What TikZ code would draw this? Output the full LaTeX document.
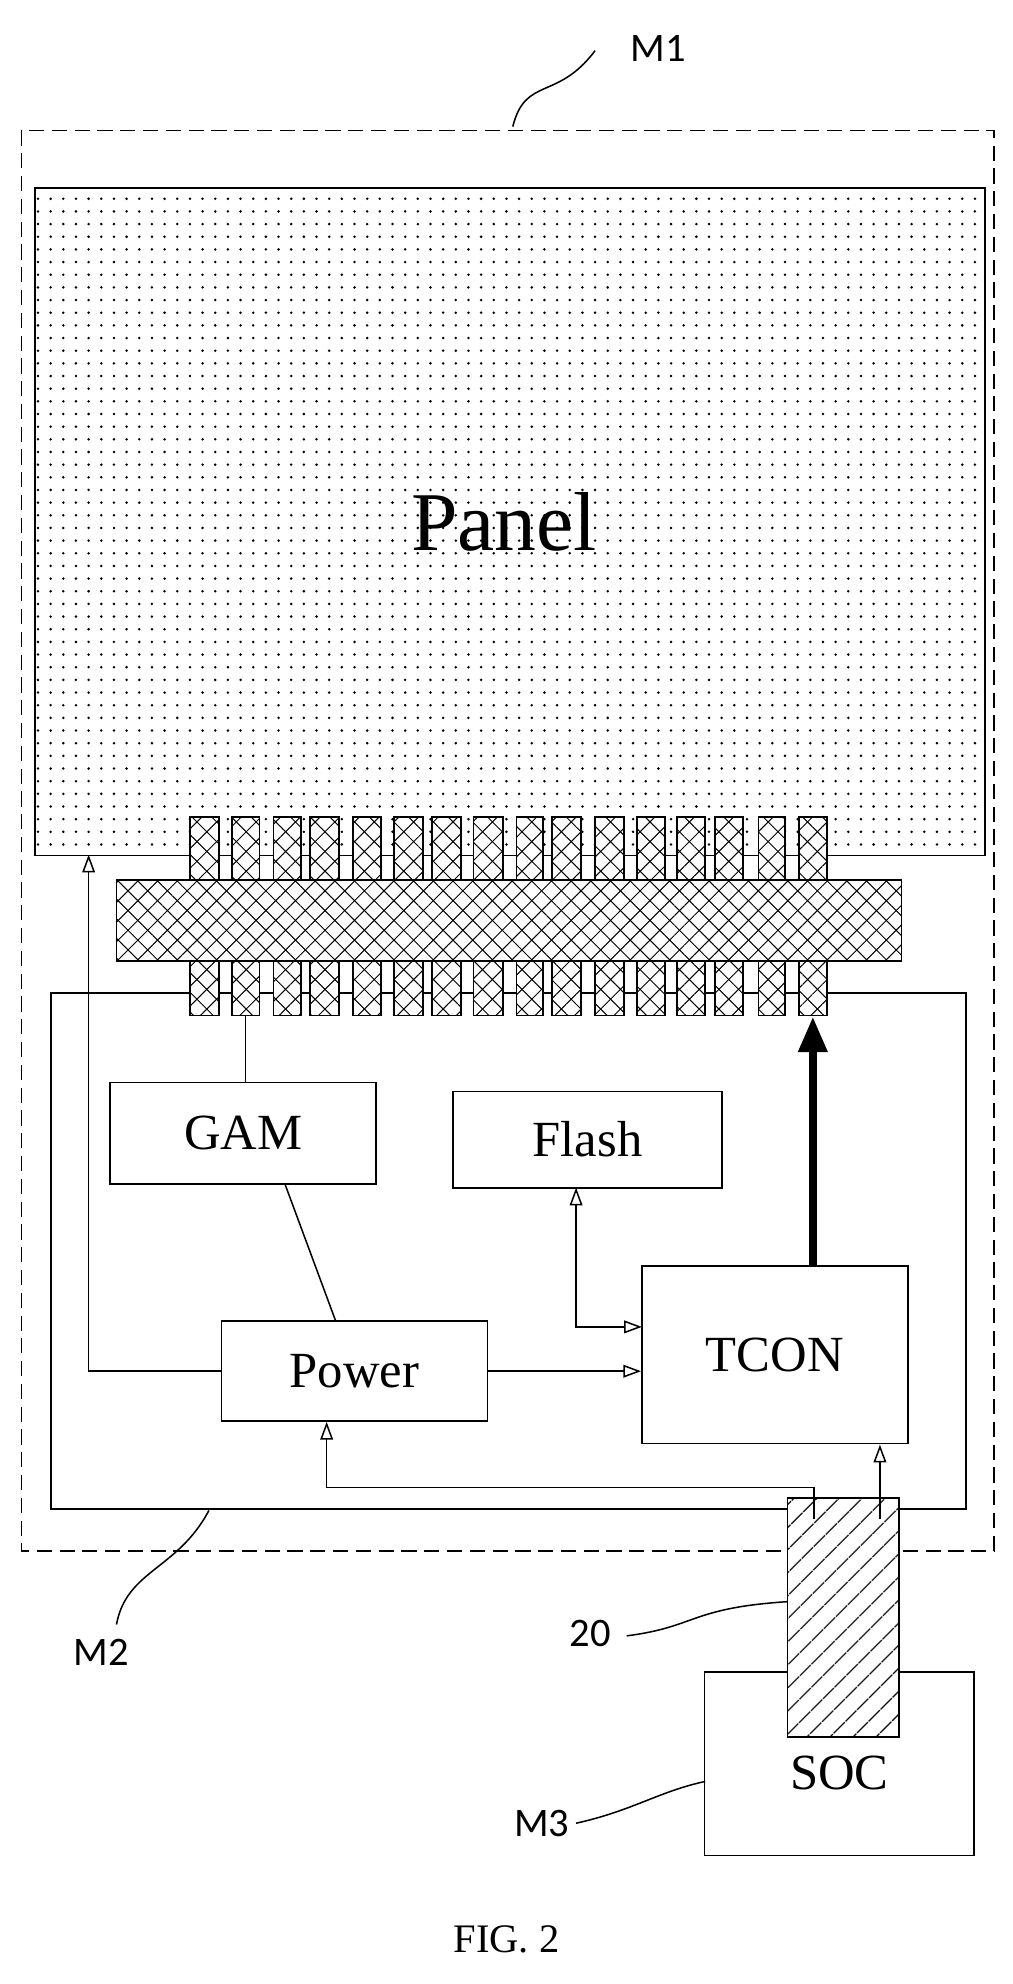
\documentclass[tikz,border=0pt]{standalone}
\usepackage{fontspec}
\setmainfont{Liberation Serif}
\newfontfamily\lab{Carlito}
\usetikzlibrary{patterns.meta,arrows.meta}
\begin{document}
\begin{tikzpicture}[x=1pt,y=-1pt,
  box/.style={draw,line width=1.4pt,fill=white,inner sep=0pt},
  xh/.style={draw,line width=1.4pt,preaction={fill=white},preaction={pattern={Lines[angle=-45,distance=11pt,line width=0.8pt]}},pattern={Lines[angle=45,distance=11pt,line width=0.8pt]}},
  txt/.style={font=\fontsize{40}{40}\selectfont},
  lbl/.style={font=\lab\fontsize{32}{32}\selectfont},
  tip/.style={Triangle[open,length=14pt,width=10pt]},
  arr/.style={-{Triangle[open,length=14pt,width=10pt]},line width=1.2pt},
  ln/.style={line width=1.2pt}]
\useasboundingbox (0,0) rectangle (800,1567);
% M1
\draw[line width=1.2pt,dash pattern=on 12pt off 6pt] (17,103) rectangle (785,1225);
\node[lbl] (m1) at (520,38) {M1};
\draw[ln] (405,100) .. controls (415,60) and (440,80) .. (470,40);
% panel
\node[box,pattern={Dots[distance=10pt,radius=1.1pt]},anchor=north west,minimum width=750pt,minimum height=527pt] (panel) at (27,148) {};
\node[font=\fontsize{66}{66}\selectfont] at (398,412) {Panel};
% M2
\draw[line width=1.4pt] (40,784) rectangle (763,1192);
\coordinate (m2c) at (165,1193);
% pins
\foreach \a/\b [count=\i] in {150/173,183/205,216/238,245/268,279/301,311/334,341/364,374/397,408/429,436/459,470/493,503/525,535/557,565/587,599/620,631/653}{
  \draw[xh] (\a,645) rectangle (\b,697);
  \draw[xh] (\a,757) rectangle (\b,802);
  \coordinate (p\i) at ({(\a+\b)/2},802);
}
\draw[xh] (92,695) rectangle (712,759);
% boxes
\node[box,txt,minimum width=210pt,minimum height=80pt] (gam) at (192,895) {GAM};
\node[box,txt,minimum width=212pt,minimum height=76pt] (flash) at (464,900) {Flash};
\node[box,txt,minimum width=210pt,minimum height=140pt] (tcon) at (612,1070) {TCON};
\node[box,txt,minimum width=210pt,minimum height=79pt] (power) at (280,1083) {Power};
\node[box,minimum width=213pt,minimum height=145pt] (soc) at (663,1393) {};
\node[txt] at (663,1400) {SOC};
\draw[line width=1.4pt,preaction={fill=white},pattern={Lines[angle=45,distance=13pt,line width=1.1pt]}] (622,1183) rectangle (710,1372);
\coordinate (c20) at (622,1265);
% connectors
\draw[ln] (p2) -- (gam.north -| p2);
\draw[ln] (225,935) -- (265,1043);
\draw[arr] (power.west) -| (70,675);
\draw[arr] (power.east) -- (power.east -| tcon.west);
\draw[{Triangle[open,length=14pt,width=10pt]}-{Triangle[open,length=14pt,width=10pt]},line width=1.2pt] (455,938) |- (507,1048);
\draw[line width=6pt,-{Triangle[length=28pt,width=22pt]}] (642,1000) -- (642,803);
\draw[arr] (695,1200) -- (695,1141);
\draw[arr] (643,1200) -- (643,1175) -| (258,1123);
% labels
\node[lbl] at (80,1305) {M2};
\draw[ln] (92,1283) .. controls (100,1240) and (140,1240) .. (m2c);
\node[lbl] at (466,1290) {20};
\draw[ln] (495,1292) .. controls (550,1285) and (545,1270) .. (c20);
\node[lbl] at (428,1440) {M3};
\draw[ln] (455,1440) .. controls (500,1430) and (520,1415) .. (557,1407);
\node[font=\fontsize{32}{32}\selectfont] at (400,1532) {FIG. 2};
\end{tikzpicture}
\end{document}
